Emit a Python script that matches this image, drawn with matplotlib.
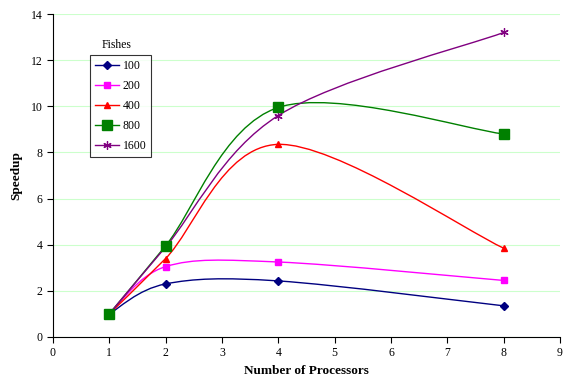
import matplotlib
matplotlib.use("Agg")
import matplotlib.pyplot as plt
from matplotlib.path import Path
from matplotlib.patches import PathPatch
from matplotlib.lines import Line2D

processors = [1, 2, 4, 8]
fishes = ["100", "200", "400", "800", "1600"]
s100 = [1.0, 2.3, 2.43, 1.35]
s200 = [1.0, 3.05, 3.25, 2.45]
s400 = [1.0, 3.4, 8.35, 3.85]
s800 = [1.0, 3.95, 9.95, 8.8]
s1600 = [1.0, 3.9, 9.6, 13.2]
series = [s100, s200, s400, s800, s1600]

colors = ["#000080", "#FF00FF", "#FF0000", "#008000", "#800080"]
markers = ["D", "s", "^", "s", (6, 2, 0)]
msizes = [4.2, 4.5, 5, 7, 6]
zorders = [3, 4, 5, 7, 6]

plt.rcParams["font.family"] = ["Liberation Serif", "DejaVu Serif"]

fig = plt.figure(figsize=(5.63, 3.9), dpi=100)
ax = fig.add_axes([0.094, 0.136, 0.9006, 0.828])


def smooth_path(xs, ys):
    pts = list(zip(xs, ys))
    n = len(pts)
    verts = [pts[0]]
    codes = [Path.MOVETO]
    for i in range(n - 1):
        p0 = pts[i - 1] if i > 0 else pts[i]
        p1 = pts[i]
        p2 = pts[i + 1]
        p3 = pts[i + 2] if i + 2 < n else pts[i + 1]
        c1 = (p1[0] + (p2[0] - p0[0]) / 6, p1[1] + (p2[1] - p0[1]) / 6)
        c2 = (p2[0] - (p3[0] - p1[0]) / 6, p2[1] - (p3[1] - p1[1]) / 6)
        verts += [c1, c2, p2]
        codes += [Path.CURVE4] * 3
    return Path(verts, codes)


handles = []
for ys, c, m, ms, z, lab in zip(series, colors, markers, msizes, zorders, fishes):
    patch = PathPatch(smooth_path(processors, ys), facecolor="none",
                      edgecolor=c, lw=1.0, zorder=2)
    ax.add_patch(patch)
    star = m == (6, 2, 0)
    ax.plot(processors, ys, linestyle="none", marker=m, ms=ms,
            mfc=c, mec=c, mew=0.9 if star else 1.0, zorder=z)
    handles.append(Line2D([], [], color=c, lw=1.0, marker=m, ms=ms,
                          mfc=c, mec=c, mew=0.9 if star else 1.0))

ax.set_xlim(0, 9)
ax.set_ylim(0, 14)
ax.set_xticks(range(0, 10))
ax.set_yticks(range(0, 15, 2))
ax.yaxis.grid(True, color="#CCFFCC", lw=0.8)
ax.set_axisbelow(True)
for sp in ["top", "right"]:
    ax.spines[sp].set_visible(False)
ax.tick_params(direction="out", length=4, labelsize=8.5, width=0.8)
ax.set_xlabel("Number of Processors", fontsize=9.5, fontweight="bold")
ax.set_ylabel("Speedup", fontsize=9.5, fontweight="bold", labelpad=6)

leg = ax.legend(handles, fishes, loc="upper left", bbox_to_anchor=(0.073, 0.873),
                fontsize=8.5, frameon=True, fancybox=False, edgecolor="black",
                handlelength=2.1, borderpad=0.4, labelspacing=0.68,
                handletextpad=0.3, borderaxespad=0)
leg.get_frame().set_linewidth(0.8)
ax.text(0.125, 0.905, "Fishes", transform=ax.transAxes, fontsize=8.5,
        ha="center", va="center")

fig.savefig("out.png", dpi=100)
